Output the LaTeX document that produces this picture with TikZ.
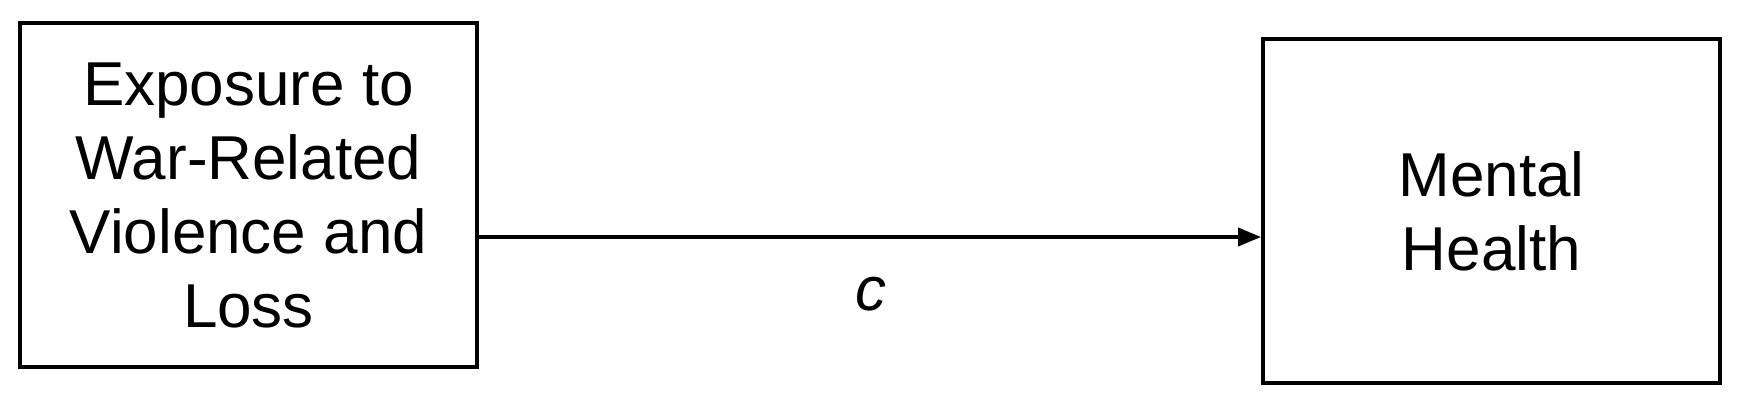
\documentclass[tikz,border=0pt]{standalone}
\usepackage{fontspec}
\setmainfont{Liberation Sans}
\usetikzlibrary{arrows.meta}
\tikzset{
  box/.style={draw, line width=1.9pt, minimum width=228.5pt, minimum height=172pt, inner sep=0pt,
    align=center, font=\fontsize{31}{37}\selectfont},
  conn/.style={line width=1.8pt, -{Triangle[length=11.5pt,width=9pt]}},
  lbl/.style={font=\fontsize{31}{37}\selectfont\itshape}
}
\begin{document}
\begin{tikzpicture}[x=0.5pt,y=-0.5pt]
\useasboundingbox (0,0) rectangle (1740,407);
\node[box] (L) at (248.5,195) {Exposure to\\War-Related\\Violence and\\Loss};
\node[box] (R) at (1491.5,211) {Mental\\Health};
\coordinate (Y) at (870,237);
\draw[conn] (L.east |- Y) -- (R.west |- Y);
\node[lbl] (c) at (871,294) {c};
\end{tikzpicture}
\end{document}
